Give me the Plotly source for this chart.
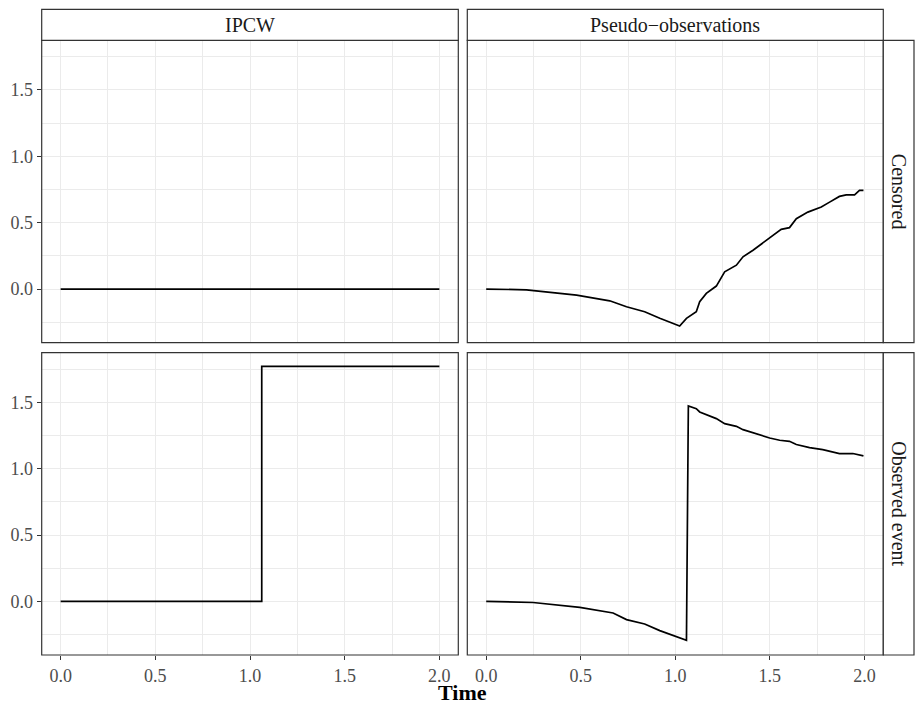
import plotly.graph_objects as go

# ---------------- data ----------------
col_labels = ["IPCW", "Pseudo\u2212observations"]
row_labels = ["Censored", "Observed event"]

ipcw_cens_t = [0.0, 2.0]
ipcw_cens_v = [0.0, 0.0]

ipcw_obs_t = [0.0, 1.062, 2.0]
ipcw_obs_v = [0.0, 1.77, 1.77]

po_cens_t = [0.0, 0.213, 0.478, 0.653, 0.742, 0.838, 0.918, 0.988, 1.023, 1.059,
             1.111, 1.129, 1.164, 1.217, 1.261, 1.323, 1.358, 1.411, 1.463, 1.516,
             1.560, 1.604, 1.640, 1.701, 1.772, 1.816, 1.868, 1.904, 1.948, 1.974, 1.995]
po_cens_v = [0.0, -0.005, -0.045, -0.088, -0.133, -0.17, -0.22, -0.258, -0.278, -0.22,
             -0.17, -0.095, -0.032, 0.023, 0.13, 0.18, 0.243, 0.293, 0.348, 0.405,
             0.45, 0.463, 0.53, 0.58, 0.618, 0.655, 0.698, 0.71, 0.71, 0.743, 0.743]

po_obs_t = [0.0, 0.248, 0.495, 0.671, 0.742, 0.838, 0.918, 0.988, 1.059,
            1.069, 1.111, 1.129, 1.217, 1.261, 1.323, 1.358, 1.499, 1.552, 1.604,
            1.640, 1.710, 1.780, 1.868, 1.939, 1.995]
po_obs_v = [0.0, -0.008, -0.045, -0.087, -0.137, -0.17, -0.22, -0.258, -0.293,
            1.472, 1.452, 1.427, 1.377, 1.339, 1.319, 1.294, 1.231, 1.214, 1.206,
            1.182, 1.159, 1.144, 1.114, 1.114, 1.096]

x_ticks = [0.0, 0.5, 1.0, 1.5, 2.0]
x_tick_labels = ["0.0", "0.5", "1.0", "1.5", "2.0"]
y_ticks = [0.0, 0.5, 1.0, 1.5]
y_tick_labels = ["0.0", "0.5", "1.0", "1.5"]
x_title = "Time"

# ---------------- layout geometry ----------------
W, H = 916, 704
FONT = "Liberation Serif"

def px_x(p):
    return p / W

def px_y(p):
    return 1 - p / H

col_px = [(41.7, 458.3), (467.3, 883.3)]
row_px = [(40.3, 342.7), (352.7, 655.0)]
strip_top = (9.3, 40.3)
strip_right = (883.3, 914.0)

xrange_ = [-0.1, 2.1]
yrange_ = [-0.4035, 1.8735]

fig = go.Figure()

panels = [
    (0, 0, ipcw_cens_t, ipcw_cens_v, "linear"),
    (0, 1, po_cens_t, po_cens_v, "linear"),
    (1, 0, ipcw_obs_t, ipcw_obs_v, "hv"),
    (1, 1, po_obs_t, po_obs_v, "linear"),
]

grid_col = "#EBEBEB"
border_col = "#333333"
tick_font = dict(family=FONT, size=18, color="#4D4D4D")

shapes = []
annotations = []

for i, (r, c, t, v, shape) in enumerate(panels):
    n = i + 1
    xa = "x" if n == 1 else f"x{n}"
    ya = "y" if n == 1 else f"y{n}"
    fig.add_trace(go.Scatter(x=t, y=v, mode="lines", line=dict(color="black", width=1.7, shape=shape),
                             xaxis=xa, yaxis=ya, showlegend=False, hoverinfo="skip"))
    x0, x1 = col_px[c]
    y0, y1 = row_px[r]
    xkey = "xaxis" if n == 1 else f"xaxis{n}"
    ykey = "yaxis" if n == 1 else f"yaxis{n}"
    show_x = r == 1
    show_y = c == 0
    fig.layout[xkey] = dict(
        domain=[px_x(x0), px_x(x1)], anchor=ya, range=xrange_,
        tickvals=x_ticks, ticktext=x_tick_labels, showticklabels=show_x,
        ticks="outside" if show_x else "", ticklen=4, tickwidth=1, tickcolor=border_col,
        tickfont=tick_font, showgrid=True, gridcolor=grid_col, gridwidth=1.1,
        minor=dict(dtick=0.25, tick0=0, showgrid=True, gridcolor=grid_col, gridwidth=0.55, ticks=""),
        zeroline=False, showline=False, fixedrange=True,
    )
    fig.layout[ykey] = dict(
        domain=[px_y(y1), px_y(y0)], anchor=xa, range=yrange_,
        tickvals=y_ticks, ticktext=y_tick_labels, showticklabels=show_y,
        ticks="outside" if show_y else "", ticklen=4, tickwidth=1, tickcolor=border_col,
        tickfont=tick_font, showgrid=True, gridcolor=grid_col, gridwidth=1.1,
        minor=dict(dtick=0.25, tick0=0.25, showgrid=True, gridcolor=grid_col, gridwidth=0.55, ticks=""),
        zeroline=False, showline=False, fixedrange=True,
    )
    shapes.append(dict(type="rect", xref="paper", yref="paper",
                       x0=px_x(x0), x1=px_x(x1), y0=px_y(y1), y1=px_y(y0),
                       line=dict(color=border_col, width=1.2), fillcolor="rgba(0,0,0,0)", layer="above"))

for c, lab in enumerate(col_labels):
    x0, x1 = col_px[c]
    shapes.append(dict(type="rect", xref="paper", yref="paper",
                       x0=px_x(x0), x1=px_x(x1), y0=px_y(strip_top[1]), y1=px_y(strip_top[0]),
                       line=dict(color=border_col, width=1.2), fillcolor="white", layer="above"))
    annotations.append(dict(xref="paper", yref="paper", x=px_x((x0 + x1) / 2),
                            y=px_y((strip_top[0] + strip_top[1]) / 2), text=lab, showarrow=False,
                            xanchor="center", yanchor="middle",
                            font=dict(family=FONT, size=20, color="#1A1A1A")))

for r, lab in enumerate(row_labels):
    y0, y1 = row_px[r]
    shapes.append(dict(type="rect", xref="paper", yref="paper",
                       x0=px_x(strip_right[0]), x1=px_x(strip_right[1]), y0=px_y(y1), y1=px_y(y0),
                       line=dict(color=border_col, width=1.2), fillcolor="white", layer="above"))
    annotations.append(dict(xref="paper", yref="paper", x=px_x((strip_right[0] + strip_right[1]) / 2),
                            y=px_y((y0 + y1) / 2), text=lab, showarrow=False, textangle=90,
                            xanchor="center", yanchor="middle",
                            font=dict(family=FONT, size=20, color="#1A1A1A")))

annotations.append(dict(xref="paper", yref="paper", x=px_x((col_px[0][0] + col_px[1][1]) / 2),
                        y=px_y(692.5), text=f"<b>{x_title}</b>", showarrow=False,
                        xanchor="center", yanchor="middle",
                        font=dict(family=FONT, size=22, color="black")))

fig.update_layout(width=W, height=H, margin=dict(l=0, r=0, t=0, b=0),
                  paper_bgcolor="white", plot_bgcolor="white",
                  shapes=shapes, annotations=annotations)

fig.write_html("out.html", config={"displayModeBar": False},
               post_script="document.body.style.margin='0';document.body.style.overflow='hidden';")
